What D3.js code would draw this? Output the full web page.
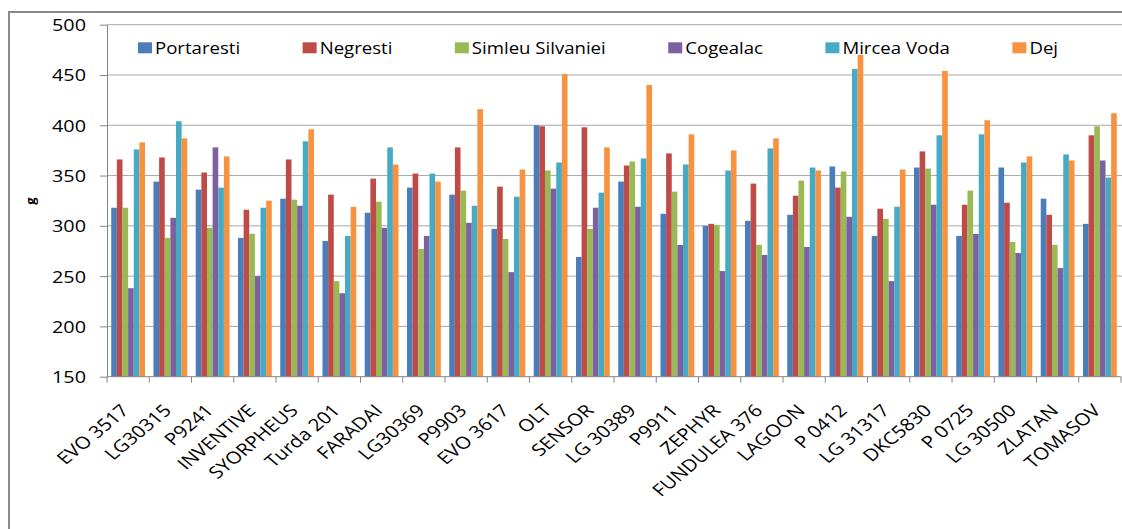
<!DOCTYPE html>
<html><head><meta charset="utf-8">
<script src="https://cdn.jsdelivr.net/npm/d3@7"></script>
<style>
html,body{margin:0;padding:0;background:#fff;}
svg{display:block;}
text{font-family:"Open Sans",sans-serif;fill:#000;}
</style></head>
<body>
<script>
const categories = ["EVO 3517","LG30315","P9241","INVENTIVE","SYORPHEUS","Turda 201","FARADAI","LG30369","P9903","EVO 3617","OLT","SENSOR","LG 30389","P9911","ZEPHYR","FUNDULEA 376","LAGOON","P 0412","LG 31317","DKC5830","P 0725","LG 30500","ZLATAN","TOMASOV"];
const seriesNames = ["Portaresti","Negresti","Simleu Silvaniei","Cogealac","Mircea Voda","Dej"];
const portaresti = [318,344,336,288,327,285,313,338,331,297,400,269,344,312,300,305,311,359,290,358,290,358,327,302];
const negresti   = [366,368,353,316,366,331,347,352,378,339,399,398,360,372,302,342,330,338,317,374,321,323,311,390];
const simleu     = [318,288,298,292,326,245,324,277,335,287,355,297,364,334,301,281,345,354,307,357,335,284,281,399];
const cogealac   = [238,308,378,250,320,233,298,290,303,254,337,318,319,281,255,271,279,309,245,321,292,273,258,365];
const mirceaVoda = [376,404,338,318,384,290,378,352,320,329,363,333,367,361,355,377,358,456,319,390,391,363,371,348];
const dej        = [383,387,369,325,396,319,361,344,416,356,451,378,440,391,375,387,355,470,356,454,405,369,365,412];
const yTicks = [150,200,250,300,350,400,450,500];
const yLabel = "g";

const seriesValues = [portaresti, negresti, simleu, cogealac, mirceaVoda, dej];
const colors = ["#4a7ebb","#be4b48","#98b954","#7d60a0","#46aac5","#f69240"];
const SX = 1.2; // horizontal stretch of the reference text

const W = 1122, H = 529;
const svg = d3.select("body").append("svg").attr("width", W).attr("height", H);

// outer frame
svg.append("path").attr("d", `M9,${H} L9,12 L${W},12`).attr("fill","none").attr("stroke","#8a8a8a").attr("stroke-width",2);

const pLeft = 107, pRight = 1121, pTop = 24.7, pBottom = 376.7;
const x = d3.scaleBand().domain(categories).range([pLeft, pRight]).paddingInner(0.2).paddingOuter(0.1);
const x1 = d3.scaleBand().domain(seriesNames).range([0, x.bandwidth()]);
const y = d3.scaleLinear().domain([150, 500]).range([pBottom, pTop]);

// gridlines
svg.append("g").selectAll("line").data(yTicks.filter(t => t > 150)).join("line")
  .attr("x1", pLeft).attr("x2", W).attr("y1", d => y(d)).attr("y2", d => y(d))
  .attr("stroke", "#a8a8a8").attr("stroke-width", 1);

// bars
const groups = svg.append("g").selectAll("g").data(categories).join("g")
  .attr("transform", d => `translate(${x(d)},0)`);
groups.selectAll("rect").data((c, i) => seriesNames.map((s, k) => ({s, k, v: seriesValues[k][i]}))).join("rect")
  .attr("x", d => x1(d.s)).attr("width", x1.bandwidth())
  .attr("y", d => y(d.v)).attr("height", d => y(150) - y(d.v))
  .attr("fill", d => colors[d.k]);

// y axis
const yAxis = svg.append("g").attr("transform", `translate(${pLeft},0)`)
  .call(d3.axisLeft(y).tickValues(yTicks).tickSize(7).tickSizeOuter(0));
yAxis.select(".domain").attr("stroke", "#868686");
yAxis.selectAll(".tick line").attr("stroke", "#868686");
yAxis.selectAll(".tick text").attr("x", null).attr("dy", "0.36em")
  .attr("transform", `translate(-21,0) scale(${SX},1)`)
  .style("font-size", "16.5px").style("font-family", '"Open Sans",sans-serif').attr("fill", "#000");

// x axis
const xAxis = svg.append("g").attr("transform", `translate(0,${pBottom})`);
xAxis.append("line").attr("x1", pLeft).attr("x2", pRight).attr("stroke", "#868686");
xAxis.selectAll("line.tk").data(d3.range(categories.length + 1)).join("line").attr("class","tk")
  .attr("x1", i => pLeft + i * x.step()).attr("x2", i => pLeft + i * x.step())
  .attr("y1", 0).attr("y2", 6).attr("stroke", "#868686");
xAxis.selectAll("text").data(categories).join("text")
  .attr("text-anchor", "end")
  .attr("transform", d => `translate(${x(d) + x.bandwidth()/2 + 2},${35}) scale(${SX},1) rotate(-45)`)
  .style("font-size", "17px")
  .text(d => d);

// y label
svg.append("text").attr("transform", "translate(35,201) rotate(-90)")
  .attr("text-anchor", "middle").style("font-size", "13px").style("font-weight", "bold").text(yLabel);

// legend
const lg = svg.append("g");
let lx = 138;
seriesNames.forEach((s, k) => {
  lg.append("rect").attr("x", lx).attr("y", 42.3).attr("width", 14).attr("height", 11).attr("fill", colors[k]);
  const t = lg.append("text").attr("transform", `translate(${lx + 17},54) scale(${SX},1)`)
    .style("font-size", "15.5px").text(s);
  const w = t.node().getComputedTextLength() * SX;
  lx = lx + 17 + w + 62.5;
});
</script>
</body></html>
